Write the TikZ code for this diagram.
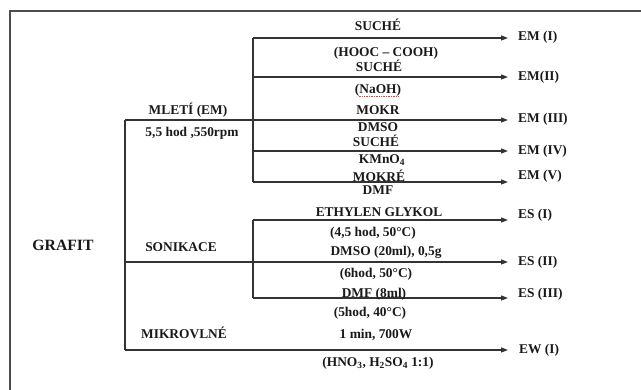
\documentclass[tikz,border=0pt]{standalone}
\usepackage{fontspec}
\setmainfont{Liberation Serif}
\usetikzlibrary{arrows.meta,calc}
\begin{document}
\begin{tikzpicture}[x=1pt,y=-1pt,
  lbl/.style={font=\bfseries\fontsize{13.4}{15}\selectfont, inner sep=0pt, text=black!90, anchor=base},
  endlbl/.style={lbl, anchor=base west},
  conn/.style={draw=black!80, line width=1.2pt},
  arr/.style={conn, -{Triangle[length=7pt,width=5pt]}},
  framel/.style={draw=black!70, line width=1.8pt}]
\useasboundingbox (0,0) rectangle (641,390);
% frame
\coordinate (fbl) at (10,392);
\coordinate (ftl) at (10,11);
\coordinate (ftr) at (643,11);
\draw[framel] (fbl) -- (ftl) -- (ftr);
% junctions
\coordinate (t1) at (125,120);
\coordinate (t2) at (125,262);
\coordinate (t3) at (125,350);
\coordinate (s1a) at (253,38);
\coordinate (s1b) at (253,77);
\coordinate (s1d) at (253,151);
\coordinate (s1e) at (253,182);
\coordinate (s2a) at (253,220);
\coordinate (s2c) at (253,298);
% arrow ends
\coordinate (e1) at (508,38);
\coordinate (e2) at (508,77);
\coordinate (e3) at (508,120);
\coordinate (e4) at (508,151);
\coordinate (e5) at (508,182);
\coordinate (f1) at (508,220);
\coordinate (f2) at (508,262);
\coordinate (f3) at (508,298);
\coordinate (g1) at (508,350);
% connectors
\draw[conn] (t1) -- (t3);
\draw[conn] (s1a) -- (s1e);
\draw[conn] (s2a) -- (s2c);
\draw[arr] (t1) -- (e3);
\draw[arr] (t2) -- (f2);
\draw[arr] (t3) -- (g1);
\draw[arr] (s1a) -- (e1);
\draw[arr] (s1b) -- (e2);
\draw[arr] (s1d) -- (e4);
\draw[arr] (s1e) -- (e5);
\draw[arr] (s2a) -- (f1);
\draw[arr] (s2c) -- (f3);
% left labels
\node[lbl, font=\bfseries\fontsize{15.7}{18}\selectfont] (grafit) at (63,250.2) {GRAFIT};
\node[lbl] (mleti) at (188,114.5) {MLETÍ (EM)};
\node[lbl] (rpm) at (192,136.5) {5,5 hod ,550rpm};
\node[lbl] (sonik) at (181,251.5) {SONIKACE};
\node[lbl] (mikro) at (184,338.5) {MIKROVLNÉ};
% middle labels
\node[lbl] (suche1) at (378,30.5) {SUCHÉ};
\node[lbl] (hooc) at (386,56.5) {(HOOC – COOH)};
\node[lbl] (suche2) at (379,71.5) {SUCHÉ};
\node[lbl] (naoh) at (378,93.5) {(NaOH)};
\node[lbl] (mokr) at (378,114.5) {MOKR};
\node[lbl] (dmso) at (378,131.5) {DMSO};
\node[lbl] (suche3) at (376,146.5) {SUCHÉ};
\node[lbl] (kmno) at (382,163.5) {KMnO\textsubscript{4}};
\node[lbl] (mokre) at (379,181.5) {MOKRÉ};
\node[lbl] (dmf) at (378,194.5) {DMF};
\node[lbl] (ethyl) at (379,216.5) {ETHYLEN GLYKOL};
\node[lbl] (h45) at (373,236.5) {(4,5 hod, 50°C)};
\node[lbl] (dmso20) at (386,255.5) {DMSO (20ml), 0,5g};
\node[lbl] (h6) at (376,277.5) {(6hod, 50°C)};
\node[lbl] (dmf8) at (374,297.5) {DMF (8ml)};
\node[lbl] (h5) at (370,316.5) {(5hod, 40°C)};
\node[lbl] (min1) at (376,338.5) {1 min, 700W};
\node[lbl] (hno) at (378,366.5) {(HNO\textsubscript{3}, H\textsubscript{2}SO\textsubscript{4} 1:1)};
\draw[red!80, densely dotted, line width=0.7pt] ($(naoh.base west)+(4,2.5)$) -- ($(naoh.base east)+(-3,2.5)$);
% end labels
\node[endlbl] (em1) at (518,40.5) {EM (I)};
\node[endlbl] (em2) at (518,80.5) {EM(II)};
\node[endlbl] (em3) at (518,122.5) {EM (III)};
\node[endlbl] (em4) at (518,154.5) {EM (IV)};
\node[endlbl] (em5) at (518,179.5) {EM (V)};
\node[endlbl] (es1) at (518,218.5) {ES (I)};
\node[endlbl] (es2) at (518,265.5) {ES (II)};
\node[endlbl] (es3) at (518,297.5) {ES (III)};
\node[endlbl] (ew1) at (519,353.5) {EW (I)};
\end{tikzpicture}
\end{document}
